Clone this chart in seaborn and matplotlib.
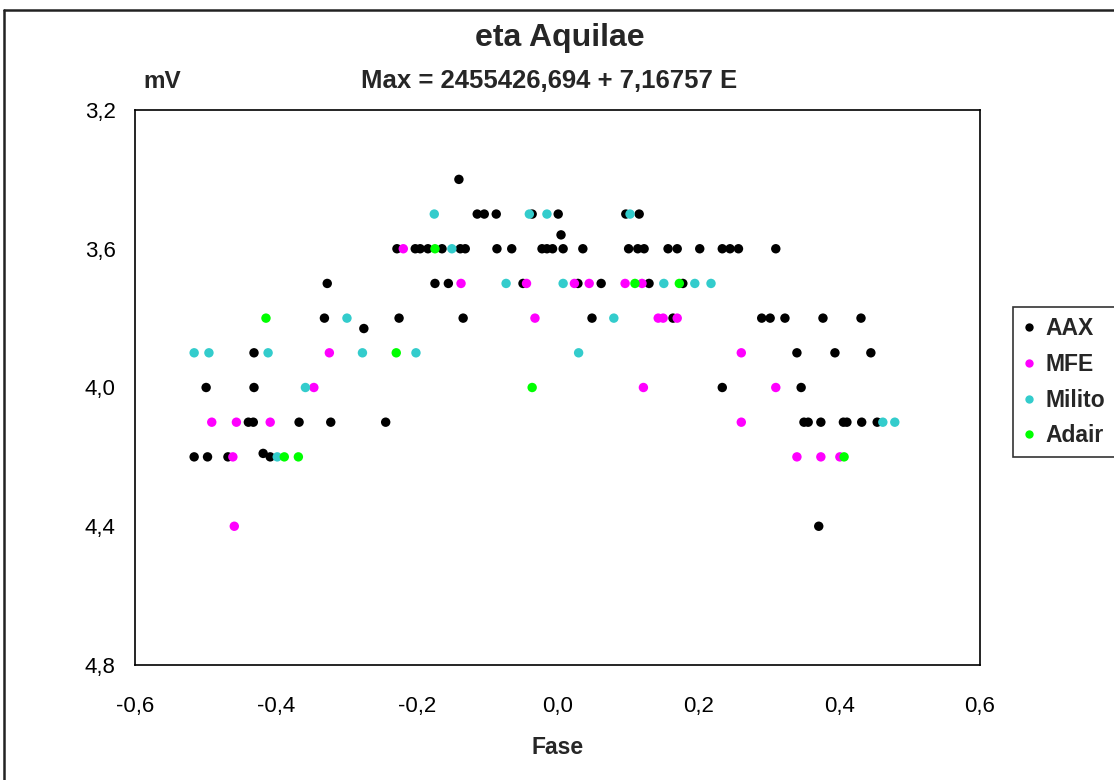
import matplotlib
matplotlib.use("Agg")
import matplotlib.pyplot as plt
import seaborn as sns
import pandas as pd
from matplotlib.lines import Line2D

# ---- data (phase, magnitude) per observer ----
aax_phase = [-0.140,
             -0.114, -0.104, -0.087, -0.036, 0.001, 0.097, 0.116,
             0.005,
             -0.228, -0.202, -0.195, -0.184, -0.164, -0.138, -0.131, -0.086, -0.065,
             -0.022, -0.015, -0.007, 0.008, 0.036, 0.101, 0.114, 0.123, 0.157, 0.170,
             0.202, 0.234, 0.245, 0.257, 0.310,
             -0.327, -0.174, -0.155, -0.049, 0.029, 0.062, 0.130, 0.178,
             -0.331, -0.225, -0.134, 0.049, 0.164, 0.290, 0.302, 0.323, 0.377, 0.431,
             -0.275,
             -0.431, 0.340, 0.394, 0.445,
             -0.499, -0.431, 0.234, 0.346,
             -0.439, -0.432, -0.367, -0.322, -0.244, 0.350, 0.356, 0.374, 0.406, 0.411,
             0.432, 0.454,
             -0.418,
             -0.516, -0.497, -0.468, -0.408,
             0.371]
aax_mag = [3.4,
           3.5, 3.5, 3.5, 3.5, 3.5, 3.5, 3.5,
           3.56,
           3.6, 3.6, 3.6, 3.6, 3.6, 3.6, 3.6, 3.6, 3.6,
           3.6, 3.6, 3.6, 3.6, 3.6, 3.6, 3.6, 3.6, 3.6, 3.6,
           3.6, 3.6, 3.6, 3.6, 3.6,
           3.7, 3.7, 3.7, 3.7, 3.7, 3.7, 3.7, 3.7,
           3.8, 3.8, 3.8, 3.8, 3.8, 3.8, 3.8, 3.8, 3.8, 3.8,
           3.83,
           3.9, 3.9, 3.9, 3.9,
           4.0, 4.0, 4.0, 4.0,
           4.1, 4.1, 4.1, 4.1, 4.1, 4.1, 4.1, 4.1, 4.1, 4.1,
           4.1, 4.1,
           4.19,
           4.2, 4.2, 4.2, 4.2,
           4.4]

mfe_phase = [-0.219,
             -0.137, -0.044, 0.024, 0.045, 0.096, 0.120,
             -0.032, 0.143, 0.150, 0.170,
             -0.324, 0.261,
             -0.346, 0.122, 0.310,
             -0.491, -0.456, -0.408, 0.261,
             -0.461, 0.340, 0.374, 0.401,
             -0.459]
mfe_mag = [3.6,
           3.7, 3.7, 3.7, 3.7, 3.7, 3.7,
           3.8, 3.8, 3.8, 3.8,
           3.9, 3.9,
           4.0, 4.0, 4.0,
           4.1, 4.1, 4.1, 4.1,
           4.2, 4.2, 4.2, 4.2,
           4.4]

milito_phase = [-0.175, -0.040, -0.015, 0.103,
                -0.150,
                -0.073, 0.008, 0.151, 0.195, 0.218,
                -0.299, 0.080,
                -0.516, -0.495, -0.411, -0.277, -0.201, 0.030,
                -0.358,
                0.462, 0.479,
                -0.398]
milito_mag = [3.5, 3.5, 3.5, 3.5,
              3.6,
              3.7, 3.7, 3.7, 3.7, 3.7,
              3.8, 3.8,
              3.9, 3.9, 3.9, 3.9, 3.9, 3.9,
              4.0,
              4.1, 4.1,
              4.2]

adair_phase = [-0.174, 0.110, 0.173, -0.414, -0.229, -0.036, -0.388, -0.368, 0.407]
adair_mag = [3.6, 3.7, 3.7, 3.8, 3.9, 4.0, 4.2, 4.2, 4.2]

observers = ["AAX", "MFE", "Milito", "Adair"]
colors = ["#000000", "#FF00FF", "#33CCCC", "#00FF00"]

x_ticks = [-0.6, -0.4, -0.2, 0.0, 0.2, 0.4, 0.6]
x_labels = ["-0,6", "-0,4", "-0,2", "0,0", "0,2", "0,4", "0,6"]
y_ticks = [3.2, 3.6, 4.0, 4.4, 4.8]
y_labels = ["3,2", "3,6", "4,0", "4,4", "4,8"]

df = pd.concat([
    pd.DataFrame({"Fase": aax_phase, "mV": aax_mag, "obs": "AAX"}),
    pd.DataFrame({"Fase": mfe_phase, "mV": mfe_mag, "obs": "MFE"}),
    pd.DataFrame({"Fase": milito_phase, "mV": milito_mag, "obs": "Milito"}),
    pd.DataFrame({"Fase": adair_phase, "mV": adair_mag, "obs": "Adair"}),
], ignore_index=True)

sns.set_style("white")
plt.rcParams["font.family"] = ["Liberation Sans", "DejaVu Sans"]

W, H = 1114, 780
fig = plt.figure(figsize=(W / 100, H / 100), dpi=100)
ax = fig.add_axes([135 / W, 1 - 665 / H, 845 / W, 555 / H])

sns.scatterplot(data=df, x="Fase", y="mV", hue="obs", hue_order=observers,
                palette=dict(zip(observers, colors)), s=46, linewidth=0,
                marker="o", ax=ax, legend=False, zorder=3)

ax.set_xlim(-0.6, 0.6)
ax.set_ylim(4.8, 3.2)
ax.set_xticks(x_ticks)
ax.set_xticklabels(x_labels)
ax.set_yticks(y_ticks)
ax.set_yticklabels(y_labels)
ax.tick_params(axis="both", direction="out", length=6, width=1.2, color="black",
               labelsize=16, colors="black")
ax.tick_params(axis="x", pad=16)
ax.tick_params(axis="y", pad=8)
for sp in ax.spines.values():
    sp.set_color("black")
    sp.set_linewidth(1.2)
ax.set_xlabel("Fase", fontsize=16.5, fontweight="bold", labelpad=14)
ax.set_ylabel("")

fig.text(560 / W, 1 - 38 / H, "eta Aquilae", ha="center", va="center",
         fontsize=23, fontweight="bold")
fig.text(549 / W, 1 - 81 / H, "Max = 2455426,694 + 7,16757 E", ha="center",
         va="center", fontsize=18.5, fontweight="bold")
fig.text(162 / W, 1 - 81 / H, "mV", ha="center", va="center",
         fontsize=17.5, fontweight="bold")

# outer chart frame
fig.add_artist(Line2D([4 / W, 1.0], [1 - 10 / H, 1 - 10 / H], transform=fig.transFigure,
                      color="#222222", lw=1.8))
fig.add_artist(Line2D([4 / W, 4 / W], [0.0, 1 - 10 / H], transform=fig.transFigure,
                      color="#222222", lw=1.8))

handles = [Line2D([], [], marker="o", linestyle="none", markersize=6,
                  markerfacecolor=c, markeredgewidth=0) for c in colors]
leg = fig.legend(handles, observers, loc="upper left",
                 bbox_to_anchor=(1013 / W, 1 - 307 / H),
                 frameon=True, fancybox=False, handlelength=0.5,
                 handletextpad=0.45, borderpad=0.45, labelspacing=0.55,
                 borderaxespad=0.0,
                 prop={"weight": "bold", "size": 16.5})
leg.get_frame().set_edgecolor("black")
leg.get_frame().set_linewidth(1.2)

fig.savefig("out.png", dpi=100)
